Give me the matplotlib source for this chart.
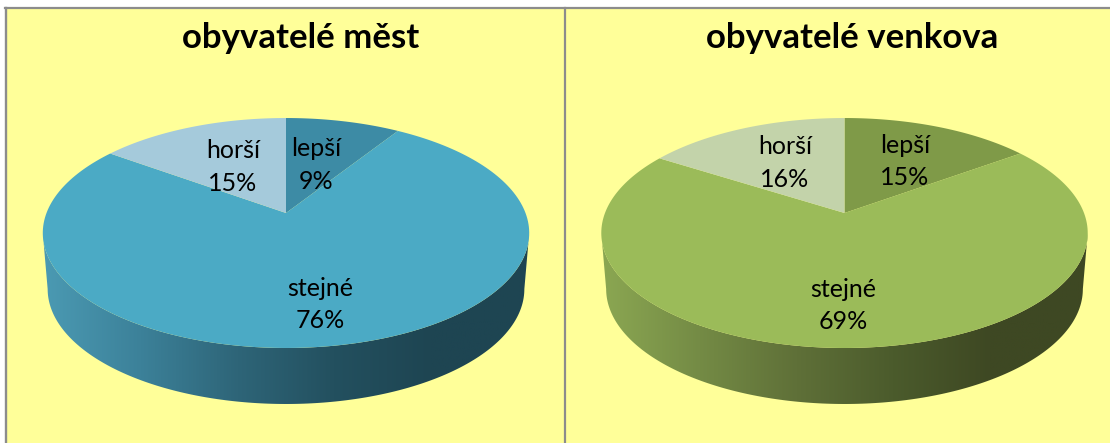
import numpy as np
import matplotlib
matplotlib.use("Agg")
import matplotlib.pyplot as plt
from matplotlib.colors import LinearSegmentedColormap
from matplotlib.patches import Polygon

categories = ["lepší", "stejné", "horší"]
mesta = [9, 76, 15]
venkov = [15, 69, 16]
titles = ["obyvatelé měst", "obyvatelé venkova"]

BG = "#FFFF99"
BORDER = "#8C8C8C"
FONT = "Lato"

# perspective of the pie top, in pixels
RX = 239.5
RY = 111.5
K = 0.174
DEPTH = 56


def project(theta, cx, cy, r=1.0):
    # theta is clockwise from the top
    u = r * np.sin(theta)
    v = r * np.cos(theta)
    d = 1 + K * v
    return cx + RX * u / d, cy - RY * v / d


def drawWall(ax, cx, cy, wallColors):
    # only the part below the widest point of the rim is visible
    t = np.linspace(np.pi / 2 + 0.175, 3 * np.pi / 2 - 0.175, 200)
    x0, y0 = project(t, cx, cy)
    # bottom rim is a little narrower than the top one
    x1 = cx + (x0 - cx) * 0.98
    y1 = y0 + DEPTH
    xs = np.concatenate([x1, x0[::-1]])
    ys = np.concatenate([y1, y0[::-1]])
    poly = Polygon(np.column_stack([xs, ys]), closed=True, fc="none", ec="none")
    ax.add_patch(poly)
    cmap = LinearSegmentedColormap.from_list("wall", wallColors)
    grad = np.linspace(0, 1, 256).reshape(1, -1)
    im = ax.imshow(grad, cmap=cmap, aspect="auto", zorder=1,
                   extent=(cx - 243, cx + 243, 443, 200))
    im.set_clip_path(poly)


def drawPie(ax, values, cx, cy, colors, wallColors, title, titleX, labelPos):
    drawWall(ax, cx, cy, wallColors)
    edges = np.cumsum([0] + values) / sum(values) * 2 * np.pi
    for i in range(len(values)):
        t = np.linspace(edges[i], edges[i + 1], 200)
        x, y = project(t, cx, cy)
        x = np.concatenate([[cx], x])
        y = np.concatenate([[cy], y])
        ax.fill(x, y, color=colors[i], lw=0, zorder=2)
        lx, ly = labelPos[i]
        ax.text(lx, ly, "%s\n%d%%" % (categories[i], values[i]), ha="center", va="center",
                fontsize=18, family=FONT, color="black", linespacing=1.48, zorder=3)
    ax.text(titleX, 37.5, title, ha="center", va="center", fontsize=25,
            family=FONT, fontweight="bold", color="black", zorder=3)


fig = plt.figure(figsize=(11.1, 4.43), dpi=100)
ax = fig.add_axes([0, 0, 1, 1])
ax.set_xlim(0, 1110)
ax.set_ylim(443, 0)
ax.axis("off")

ax.add_patch(Polygon([(6, 8), (1110, 8), (1110, 443), (6, 443)], closed=True, fc=BG, ec="none", zorder=0))
ax.plot([6.3, 6.3], [8, 443], color=BORDER, lw=1.7, zorder=1)
ax.plot([5, 1110], [8, 8], color=BORDER, lw=1.6, zorder=1)
ax.plot([564.5, 564.5], [8, 443], color=BORDER, lw=1.6, zorder=1)

drawPie(ax, mesta, 286, 213,
        ["#3D8BA5", "#4BAAC5", "#A5CADB"],
        ["#4B9AB3", "#3C8199", "#2E6578", "#23505F", "#1E4552", "#1E4552"],
        titles[0], 301, [(316, 165), (320, 304.5), (233, 167)])
drawPie(ax, venkov, 844.5, 213,
        ["#7F9A48", "#9BBB59", "#C3D3AA"],
        ["#8BA752", "#748B45", "#5F7038", "#4B5B2C", "#3E4823", "#3E4823"],
        titles[1], 852.5, [(905, 161.5), (843, 305.5), (785, 163)])

ax.set_xlim(0, 1110)
ax.set_ylim(443, 0)
fig.savefig("out.png", dpi=100)
